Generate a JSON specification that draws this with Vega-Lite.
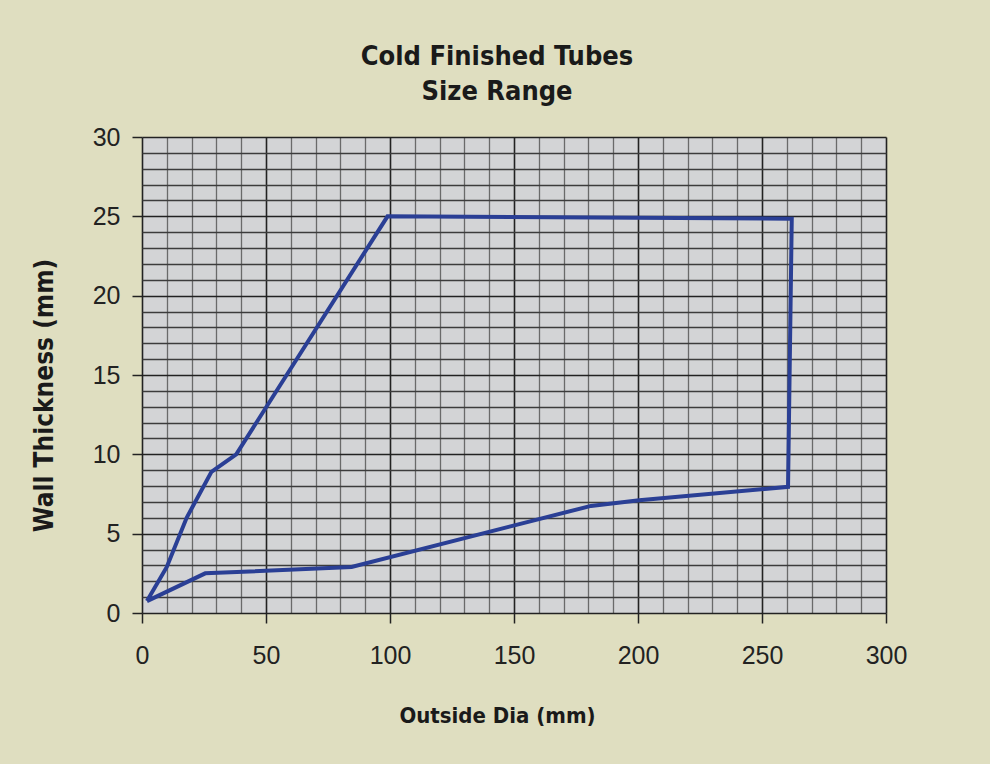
{
  "$schema": "https://vega.github.io/schema/vega-lite/v6.json",
  "width": 744,
  "height": 476,
  "autosize": {"type": "none"},
  "padding": {"left": 142, "top": 137, "right": 104, "bottom": 151},
  "background": "#dfdec0",
  "title": {
    "text": ["Cold Finished Tubes", "Size Range"],
    "font": "Liberation Sans Narrow, DejaVu Sans Condensed, sans-serif",
    "fontSize": 27,
    "fontWeight": "bold",
    "color": "#1a1a1a",
    "lineHeight": 35,
    "anchor": "middle",
    "dx": -17,
    "offset": 19
  },
  "config": {
    "view": {"fill": "#d3d4d6", "stroke": null},
    "axis": {
      "labelFont": "Liberation Sans, Arial, sans-serif",
      "labelFontSize": 25,
      "labelColor": "#222222",
      "titleFont": "Liberation Sans Narrow, DejaVu Sans Condensed, sans-serif",
      "titleFontWeight": "bold",
      "titleColor": "#1a1a1a"
    }
  },
  "data": {
    "values": [
      {"order": 1, "od": 2, "wall": 0.75},
      {"order": 2, "od": 10, "wall": 2.9},
      {"order": 3, "od": 18, "wall": 6.0},
      {"order": 4, "od": 28, "wall": 8.9},
      {"order": 5, "od": 38, "wall": 10.0},
      {"order": 6, "od": 99, "wall": 25.0},
      {"order": 7, "od": 262, "wall": 24.85},
      {"order": 8, "od": 260.5, "wall": 7.95},
      {"order": 9, "od": 200.5, "wall": 7.1},
      {"order": 10, "od": 181, "wall": 6.75},
      {"order": 11, "od": 84.5, "wall": 2.9},
      {"order": 12, "od": 25.5, "wall": 2.5},
      {"order": 13, "od": 2, "wall": 0.75}
    ]
  },
  "mark": {"type": "line", "color": "#2a3f95", "strokeWidth": 4, "strokeJoin": "miter"},
  "encoding": {
    "order": {"field": "order", "type": "quantitative"},
    "x": {
      "field": "od",
      "type": "quantitative",
      "scale": {"domain": [0, 300], "nice": false, "zero": true},
      "axis": {
        "title": "Outside Dia (mm)",
        "titleFontSize": 22,
        "titleX": 355,
        "titleY": 109,
        "titleBaseline": "alphabetic",
        "titleAnchor": null,
        "titleAlign": "center",
        "values": [0,10,20,30,40,50,60,70,80,90,100,110,120,130,140,150,160,170,180,190,200,210,220,230,240,250,260,270,280,290,300],
        "labelExpr": "datum.value % 50 === 0 ? datum.label : ''",
        "labelFlush": false,
        "labelPadding": 20,
        "domain": false,
        "grid": true,
        "gridColor": {"condition": {"test": "datum.value % 50 === 0", "value": "#222222"}, "value": "#6a6a6a"},
        "gridWidth": {"condition": {"test": "datum.value % 50 === 0", "value": 1.6}, "value": 1.3},
        "gridOpacity": 1,
        "ticks": true,
        "tickSize": 10,
        "tickWidth": 1.5,
        "tickColor": {"condition": {"test": "datum.value % 50 === 0", "value": "#222222"}, "value": "transparent"}
      }
    },
    "y": {
      "field": "wall",
      "type": "quantitative",
      "scale": {"domain": [0, 30], "nice": false},
      "axis": {
        "title": "Wall Thickness (mm)",
        "titleFontSize": 26,
        "titleX": -90,
        "titleY": 258,
        "titleAngle": -90,
        "titleBaseline": "alphabetic",
        "titleAlign": "center",
        "titleAnchor": null,
        "values": [0,1,2,3,4,5,6,7,8,9,10,11,12,13,14,15,16,17,18,19,20,21,22,23,24,25,26,27,28,29,30],
        "labelExpr": "datum.value % 5 === 0 ? datum.label : ''",
        "labelFlush": false,
        "labelPadding": 12,
        "domain": false,
        "grid": true,
        "gridColor": {"condition": {"test": "datum.value % 5 === 0", "value": "#222222"}, "value": "#3c3c3c"},
        "gridWidth": {"condition": {"test": "datum.value % 5 === 0", "value": 1.6}, "value": 1.3},
        "gridOpacity": 1,
        "ticks": true,
        "tickSize": 10,
        "tickWidth": 1.5,
        "tickColor": {"condition": {"test": "datum.value % 5 === 0", "value": "#222222"}, "value": "transparent"}
      }
    }
  }
}
